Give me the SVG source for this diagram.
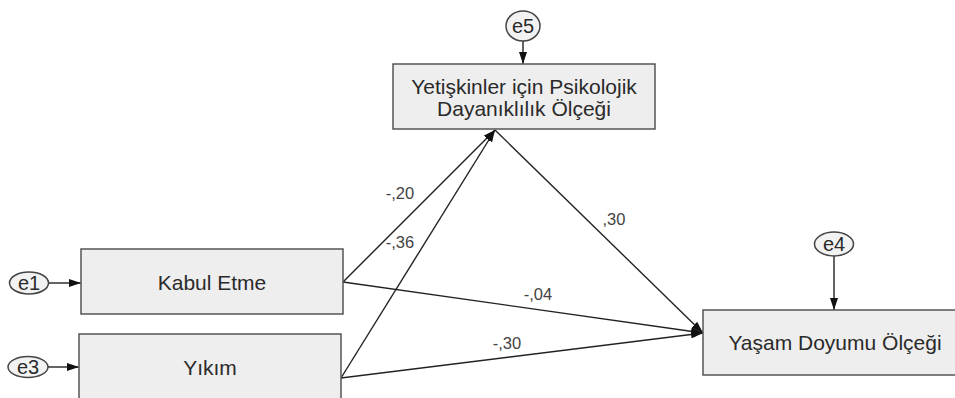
<svg xmlns="http://www.w3.org/2000/svg" width="955" height="398" viewBox="0 0 955 398">
<defs>
<marker id="ah" viewBox="0 0 12 8" refX="12" refY="4" markerWidth="12" markerHeight="8" markerUnits="userSpaceOnUse" orient="auto">
<path d="M0,0 L12,4 L0,8 Z" fill="#111"/>
</marker>
</defs>
<style>
.box{fill:#eeeeee;stroke:#555;stroke-width:1.5}
.err{fill:#f2f2f2;stroke:#444;stroke-width:1.5}
.t{font-family:"Liberation Sans",Arial,sans-serif;font-size:21px;fill:#2a2a2a;text-anchor:middle}
.et{font-family:"Liberation Sans",Arial,sans-serif;font-size:20px;fill:#2a2a2a;text-anchor:middle}
.lb{font-family:"Liberation Sans",Arial,sans-serif;font-size:16.5px;fill:#444;text-anchor:middle}
.c{stroke:#222;stroke-width:1.4;fill:none;marker-end:url(#ah)}
</style>
<rect width="955" height="398" fill="#fff"/>
<g id="connectors">
<line class="c" x1="523" y1="41" x2="523" y2="64"/>
<line class="c" x1="49" y1="283" x2="81" y2="283"/>
<line class="c" x1="48" y1="367" x2="79" y2="367"/>
<line class="c" x1="834" y1="256" x2="834" y2="310"/>
<line class="c" x1="343" y1="282" x2="495" y2="130"/>
<line class="c" x1="341" y1="378" x2="495" y2="130"/>
<line class="c" x1="495" y1="130" x2="703" y2="333"/>
<line class="c" x1="343" y1="282" x2="703" y2="333"/>
<line class="c" x1="341" y1="378" x2="703" y2="333"/>
<text class="lb" x="400" y="199">-,20</text>
<text class="lb" x="400" y="248">-,36</text>
<text class="lb" x="538" y="300">-,04</text>
<text class="lb" x="507" y="349">-,30</text>
<text class="lb" x="614" y="225">,30</text>
</g>
<g id="e5"><ellipse class="err" cx="523" cy="26" rx="17" ry="15"/><text class="et" x="523" y="33">e5</text></g>
<g id="psikolojik"><rect class="box" x="393" y="64" width="262" height="65"/><text class="t" x="524" y="94">Yetişkinler için Psikolojik</text><text class="t" x="524" y="116">Dayanıklılık Ölçeği</text></g>
<g id="e1"><ellipse class="err" cx="29" cy="283" rx="19.5" ry="11"/><text class="et" x="29" y="290">e1</text></g>
<g id="kabul"><rect class="box" x="81" y="249" width="262" height="65"/><text class="t" x="212" y="290">Kabul Etme</text></g>
<g id="e3"><ellipse class="err" cx="28" cy="367" rx="20" ry="10.5"/><text class="et" x="28" y="374">e3</text></g>
<g id="yikim"><rect class="box" x="79" y="334" width="262" height="65"/><text class="t" x="210" y="375">Yıkım</text></g>
<g id="e4"><ellipse class="err" cx="834" cy="244" rx="19.5" ry="12"/><text class="et" x="834" y="251">e4</text></g>
<g id="yasam"><rect class="box" x="703" y="310" width="262" height="65"/><text class="t" x="835" y="350">Yaşam Doyumu Ölçeği</text></g>
</svg>
